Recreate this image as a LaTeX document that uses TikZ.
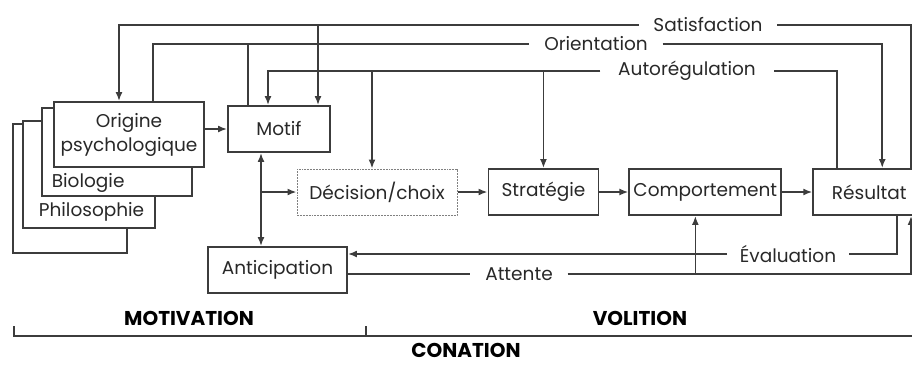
\documentclass[tikz,border=0pt]{standalone}
\usepackage{fontspec}
\setmainfont{Poppins}
\usetikzlibrary{arrows.meta, positioning}
\definecolor{ink}{RGB}{60,60,60}
\definecolor{txt}{RGB}{40,40,40}

\begin{document}
\begin{tikzpicture}[x=1pt, y=-1pt, color=ink, text=txt, line width=1.7pt,
  font=\fontsize{18.5}{24}\selectfont, >={Latex[length=9pt,width=7pt]}]
\tikzstyle{box}=[draw=ink, line width=1.9pt, fill=white, inner sep=0pt, minimum height=46pt, align=center]
\tikzstyle{lbl}=[inner xsep=14pt, inner ysep=0pt]
\tikzstyle{head}=[font=\fontsize{20}{22}\selectfont\bfseries, text=black, inner sep=1pt]

\useasboundingbox (0,0) rectangle (912,365);

\node[box, minimum width=114pt, minimum height=129pt] (blank) at (70,188.5) {};
\node[box, minimum width=132pt, minimum height=107pt] (philo) at (89,174.5) {};
\node[box, minimum width=150pt, minimum height=88pt] (bio) at (117,152) {};
\node[box, minimum width=150pt, minimum height=65pt] (orig) at (129,134.5) {Origine\\psychologique};
\node[anchor=west, inner sep=0pt] (philo_txt) at (38,212) {Philosophie};
\node[anchor=west, inner sep=0pt] (bio_txt) at (51,183) {Biologie};

\node[box, minimum width=102pt] (motif) at (279,129) {Motif};
\node[box, minimum width=160pt, draw=gray, densely dotted, line width=1pt] (dec) at (377,192) {Décision/choix};
\node[box, minimum width=110pt, right=30pt of dec] (strat) {Stratégie};
\node[box, minimum width=152pt, right=29pt of strat] (comp) {Comportement};
\node[box, minimum width=112pt, right=30pt of comp] (res) {Résultat};
\node[box, minimum width=139pt] (antic) at (277.5,270) {Anticipation};

\node[lbl] (sat) at (708,25) {Satisfaction};
\node[lbl] (ori) at (596,44) {Orientation};
\node[lbl, inner xsep=17pt] (aut) at (687,71) {Autorégulation};
\node[lbl, inner xsep=12pt] (eval) at (788,254) {Évaluation};
\node[lbl] (att) at (519,274) {Attente};
\coordinate (rail) at (911,0);

\draw[->] (orig.east |- motif.west) -- (motif.west);
\draw[<->] ([xshift=-18pt]motif.south) -- ([xshift=-18pt]motif.south |- antic.north);
\coordinate (split) at ([xshift=-18pt]motif.south |- dec.west);
\draw[->] (split) -- (dec.west);
\draw[->] (dec) -- (strat);
\draw[->] (strat) -- (comp);
\draw[->] (comp) -- (res);

\draw (rail |- res.north) |- (sat.east);
\draw[->] (sat.west) -| ([xshift=-10pt]orig.north);
\draw[->] ([xshift=39pt]motif.north |- sat.west) -- ([xshift=39pt]motif.north);

\draw ([xshift=24pt]orig.north) |- (ori.west);
\draw ([xshift=-31pt]motif.north) -- ([xshift=-31pt]motif.north |- ori.west);
\draw[->] (ori.east) -| ([xshift=13pt]res.north);

\draw ([xshift=-32pt]res.north) |- (aut.east);
\draw[->] (aut.west) -| ([xshift=-11pt]motif.north);
\draw[->] ([xshift=-5pt]dec.north |- aut.west) -- ([xshift=-5pt]dec.north);
\draw[->] (strat.north |- aut.west) -- (strat.north);

\draw ([xshift=28pt]res.south) |- (eval.east);
\draw[->] (eval.west) -- (eval.west -| antic.east);

\draw (antic.east |- att.west) -- (att.west);
\draw[->] (att.east) -| (rail |- res.south);
\draw[->] ([xshift=-10pt]comp.south |- att.east) -- ([xshift=-10pt]comp.south);

\coordinate (brL) at (14,336);
\coordinate (brM) at (366,336);
\coordinate (brR) at (920,336);
\draw ([yshift=10pt]brL) -- (brL) -- (brR);
\draw ([yshift=10pt]brM) -- (brM);
\node[head] (mot) at (189,318) {MOTIVATION};
\node[head] (vol) at (640,318) {VOLITION};
\node[head] (con) at (466,350) {CONATION};
\end{tikzpicture}
\end{document}
